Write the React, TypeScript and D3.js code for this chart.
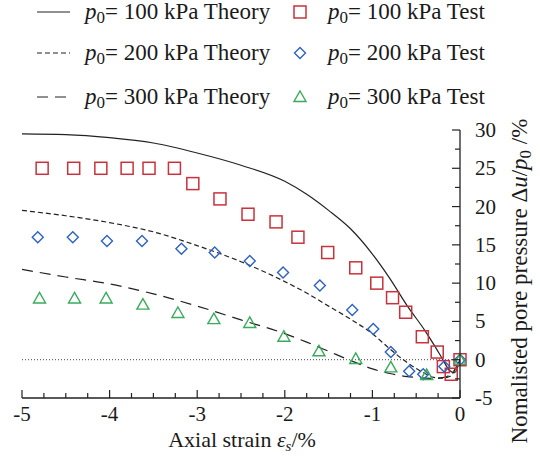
import React from "react";
import * as d3 from "d3";

// theory curves (axial strain %, normalised pore pressure %)
const theoryX = [-5, -4.5, -4, -3.5, -3, -2.5, -2, -1.75, -1.5, -1.25, -1, -0.8, -0.6, -0.4, -0.3, -0.2, -0.12, -0.06, 0];
const theory100 = [29.5, 29.4, 29.0, 28.3, 27.0, 25.4, 23.3, 21.6, 19.5, 17.1, 13.8, 10.6, 7.0, 3.8, 2.0, 0.1, -1.4, -1.7, 0];
const theory200 = [19.5, 18.8, 17.9, 16.7, 14.9, 12.8, 10.2, 8.7, 7.0, 5.3, 3.4, 1.4, -0.4, -1.8, -2.3, -2.4, -2.2, -1.4, 0];
const theory300 = [11.8, 10.8, 9.9, 8.6, 7.0, 5.2, 3.4, 2.3, 1.1, -0.1, -1.2, -1.8, -2.2, -2.4, -2.45, -2.35, -2.0, -1.3, 0];

// test data
const test100X = [-4.77, -4.41, -4.10, -3.80, -3.55, -3.26, -3.05, -2.74, -2.42, -2.10, -1.85, -1.51, -1.19, -0.95, -0.77, -0.62, -0.43, -0.26, -0.19, -0.10, 0];
const test100Y = [25, 25, 25, 25, 25, 25, 23.0, 21.0, 19.0, 18.0, 16.0, 14.0, 12.0, 10.0, 8.1, 6.2, 3.0, 1.0, -0.9, -1.9, 0];
const test200X = [-4.82, -4.42, -4.03, -3.63, -3.18, -2.80, -2.40, -2.02, -1.60, -1.23, -0.99, -0.79, -0.58, -0.42, -0.18, 0];
const test200Y = [16.0, 16.0, 15.5, 15.5, 14.5, 14.0, 12.9, 11.4, 9.7, 6.5, 4.0, 1.0, -1.5, -1.9, -0.9, 0];
const test300X = [-4.80, -4.40, -4.04, -3.62, -3.22, -2.81, -2.40, -2.01, -1.61, -1.19, -0.79, -0.38, 0];
const test300Y = [8.0, 8.0, 8.0, 7.2, 6.1, 5.3, 4.8, 3.0, 1.1, 0.1, -1.0, -2.0, 0];

const xTicks = [-5, -4, -3, -2, -1, 0];
const yTicks = [-5, 0, 5, 10, 15, 20, 25, 30];
const pressures = ["100", "200", "300"];

const FONT = "Liberation Serif, Times New Roman, DejaVu Serif, serif";
const RED = "#c8323c";
const BLUE = "#2e62c2";
const GREEN = "#3aaa5c";
const LINE = "#222";
const TEXT = "#1a1a1a";
const dashes = [null, "5,3", "11,7"];

const x = d3.scaleLinear().domain([-5, 0]).range([22, 460]);
const y = d3.scaleLinear().domain([-5, 30]).range([398, 130]);

function P0() {
  return (
    <>
      <tspan fontStyle="italic">p</tspan>
      <tspan fontSize="17" dy="4">0</tspan>
      <tspan dy="-4">{"= "}</tspan>
    </>
  );
}

function Square({ cx, cy }) {
  return <rect x={cx - 6} y={cy - 6} width={12} height={12} fill="none" stroke={RED} strokeWidth={1.5} />;
}
function Diamond({ cx, cy }) {
  return <path d={`M${cx},${cy - 5.5}L${cx + 5.5},${cy}L${cx},${cy + 5.5}L${cx - 5.5},${cy}Z`} fill="none" stroke={BLUE} strokeWidth={1.4} />;
}
function Triangle({ cx, cy }) {
  return <path d={`M${cx},${cy - 6}L${cx + 6},${cy + 4.5}L${cx - 6},${cy + 4.5}Z`} fill="none" stroke={GREEN} strokeWidth={1.4} />;
}

export default function App() {
  const line = d3.line<number>().x((d, i) => x(theoryX[i])).y(d => y(d)).curve(d3.curveMonotoneX);
  const curves = [theory100, theory200, theory300];
  const markers = [Square, Diamond, Triangle];
  const tests = [[test100X, test100Y], [test200X, test200Y], [test300X, test300Y]];
  const minorX = d3.range(-5, 0.001, 0.25);
  const minorY = d3.range(-5, 30.001, 2.5);
  const rowsY = [12, 53, 97];

  return (
    <svg width={540} height={460} style={{ position: "absolute", left: 0, top: 0, fontFamily: FONT }}>
      <rect width={540} height={460} fill="#fff" />

      {/* legend */}
      {pressures.map((p, i) => {
        const M = markers[i];
        return (
          <g key={p}>
            <line x1={37} x2={70} y1={rowsY[i]} y2={rowsY[i]} stroke={LINE} strokeWidth={1.2} strokeDasharray={dashes[i] || undefined} />
            <text x={85} y={rowsY[i] + 7} fontSize={23} fill={TEXT}>
              <P0 />{p} kPa Theory
            </text>
            <M cx={300} cy={rowsY[i]} />
            <text x={328} y={rowsY[i] + 7} fontSize={23} fill={TEXT}>
              <P0 />{p} kPa Test
            </text>
          </g>
        );
      })}

      {/* zero line */}
      <line x1={x(-5)} x2={x(0)} y1={y(0)} y2={y(0)} stroke="#444" strokeWidth={1} strokeDasharray="1,2" />

      {/* theory */}
      {curves.map((c, i) => (
        <path key={i} d={line(c)} fill="none" stroke={LINE} strokeWidth={1.2} strokeDasharray={dashes[i] || undefined} />
      ))}

      {/* tests */}
      {tests.map(([xs, ys], i) => {
        const M = markers[i];
        return xs.map((v, j) => <M key={`${i}-${j}`} cx={x(v)} cy={y(ys[j])} />);
      })}

      {/* x axis */}
      <line x1={x(-5)} x2={x(0)} y1={398} y2={398} stroke="#222" strokeWidth={1.3} />
      {minorX.map(t => (
        <line key={t} x1={x(t)} x2={x(t)} y1={398} y2={Number.isInteger(t) ? 390 : 393} stroke="#222" strokeWidth={1.2} />
      ))}
      {xTicks.map(t => (
        <text key={t} x={x(t)} y={421} textAnchor="middle" fontSize={21} fill={TEXT}>{t}</text>
      ))}
      <text x={242} y={447} textAnchor="middle" fontSize={22} fill={TEXT}>
        Axial strain <tspan fontStyle="italic">ε</tspan><tspan fontStyle="italic" fontSize={15} dy={4}>s</tspan><tspan dy={-4}>/%</tspan>
      </text>

      {/* y axis */}
      <line x1={460} x2={460} y1={y(-5)} y2={y(30)} stroke="#222" strokeWidth={1.3} />
      {minorY.map(t => (
        <line key={t} x1={460} x2={t % 5 === 0 ? 452 : 455} y1={y(t)} y2={y(t)} stroke="#222" strokeWidth={1.2} />
      ))}
      {yTicks.map(t => (
        <text key={t} x={475} y={y(t) + 7} fontSize={21} fill={TEXT}>{t}</text>
      ))}
      <text transform="translate(527,281) rotate(-90)" textAnchor="middle" fontSize={23} fill={TEXT}>
        Nomalisted pore pressure Δ<tspan fontStyle="italic">u</tspan>/<tspan fontStyle="italic">p</tspan><tspan fontSize={17} dy={4}>0</tspan><tspan dy={-4}> /%</tspan>
      </text>
    </svg>
  );
}
